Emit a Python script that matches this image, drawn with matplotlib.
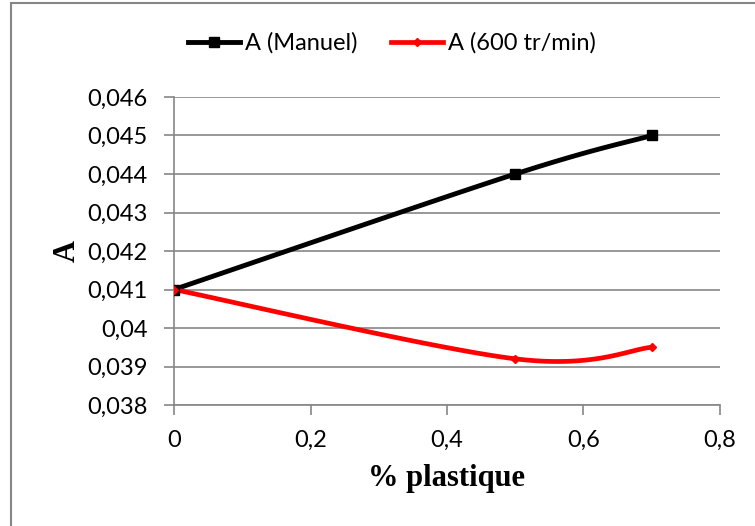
import numpy as np
import matplotlib
matplotlib.use("Agg")
import matplotlib.pyplot as plt
from matplotlib.patches import Rectangle
from matplotlib.lines import Line2D

# Data
plastique = [0.0, 0.5, 0.7]
a_manuel = [0.041, 0.044, 0.045]
a_600 = [0.041, 0.0392, 0.0395]
series_labels = ["A (Manuel)", "A (600 tr/min)"]
x_ticks = [0, 0.2, 0.4, 0.6, 0.8]
y_ticks = [0.038, 0.039, 0.040, 0.041, 0.042, 0.043, 0.044, 0.045, 0.046]

GRAY = "#868686"
TICK_FONT = "Lato"
FS = 17

fig = plt.figure(figsize=(7.55, 5.26), dpi=100)
ax = fig.add_axes([0.2305, 0.2300, 0.7231, 0.5856])

xlim = (0, 0.8)
ylim = (0.038, 0.046)
ax.set_xlim(*xlim)
ax.set_ylim(*ylim)
ASPECT = (0.5856 * 5.26) / (0.7231 * 7.55)


def smooth(xs, ys, n=60):
    """Cubic Bezier smoothing (Catmull-Rom tangents) computed in axes-fraction space."""
    px = (np.asarray(xs) - xlim[0]) / (xlim[1] - xlim[0])
    py = (np.asarray(ys) - ylim[0]) / (ylim[1] - ylim[0]) * ASPECT
    pts = np.column_stack([px, py])
    ext = np.vstack([pts[0], pts, pts[-1]])
    out = []
    t = np.linspace(0, 1, n)[:, None]
    for i in range(len(pts) - 1):
        p0, p3 = ext[i + 1], ext[i + 2]
        c1 = p0 + (ext[i + 2] - ext[i]) / 6.0
        c2 = p3 - (ext[i + 3] - ext[i + 1]) / 6.0
        seg = ((1 - t) ** 3) * p0 + 3 * ((1 - t) ** 2) * t * c1 + 3 * (1 - t) * t ** 2 * c2 + t ** 3 * p3
        out.append(seg)
    out = np.vstack(out)
    sx = out[:, 0] * (xlim[1] - xlim[0]) + xlim[0]
    sy = out[:, 1] / ASPECT * (ylim[1] - ylim[0]) + ylim[0]
    return sx, sy


sx, sy = smooth(plastique, a_manuel)
ax.plot(sx, sy, color="black", lw=3.5, solid_capstyle="round", zorder=3)
ax.plot(plastique, a_manuel, ls="none", marker="s", ms=7, color="black", zorder=4)

sx, sy = smooth(plastique, a_600)
ax.plot(sx, sy, color="#ff0000", lw=3.4, solid_capstyle="round", zorder=3)
ax.plot(plastique, a_600, ls="none", marker="D", ms=4.5, color="#ff0000", zorder=4)

ax.set_xticks(x_ticks)
ax.set_yticks(y_ticks)
ax.set_xticklabels([("%g" % v).replace(".", ",") for v in x_ticks], fontsize=FS, family=TICK_FONT)
ax.set_yticklabels([("%g" % v).replace(".", ",") for v in y_ticks], fontsize=FS, family=TICK_FONT)
ax.tick_params(axis="both", direction="out", length=7, width=1.2, color=GRAY)
ax.tick_params(axis="y", pad=12)
ax.tick_params(axis="x", pad=11)

ax.grid(axis="y", color=GRAY, lw=1.2)
ax.set_axisbelow(True)
for side in ("top", "right"):
    ax.spines[side].set_visible(False)
for side in ("left", "bottom"):
    ax.spines[side].set_color(GRAY)
    ax.spines[side].set_linewidth(1.2)

ax.set_xlabel("% plastique", fontsize=22, fontweight="bold", family="Liberation Serif", labelpad=9)
ax.set_ylabel("A", fontsize=22, fontweight="bold", family="Liberation Serif", labelpad=4)

handles = [
    Line2D([], [], color="black", lw=3.5, marker="s", ms=7),
    Line2D([], [], color="#ff0000", lw=3.4, marker="D", ms=4.5),
]
fig.legend(handles, series_labels, loc="center", bbox_to_anchor=(0.519, 0.918), ncol=2,
           frameon=False, prop={"family": TICK_FONT, "size": FS}, handlelength=2.2,
           handletextpad=0.2, columnspacing=1.45)

# Outer chart border
fig.patches.append(Rectangle((11 / 755, -0.05), 1.0, 1.05 - 3 / 526, transform=fig.transFigure,
                             fill=False, edgecolor=GRAY, lw=1.5))

fig.savefig("out.png", dpi=100)
